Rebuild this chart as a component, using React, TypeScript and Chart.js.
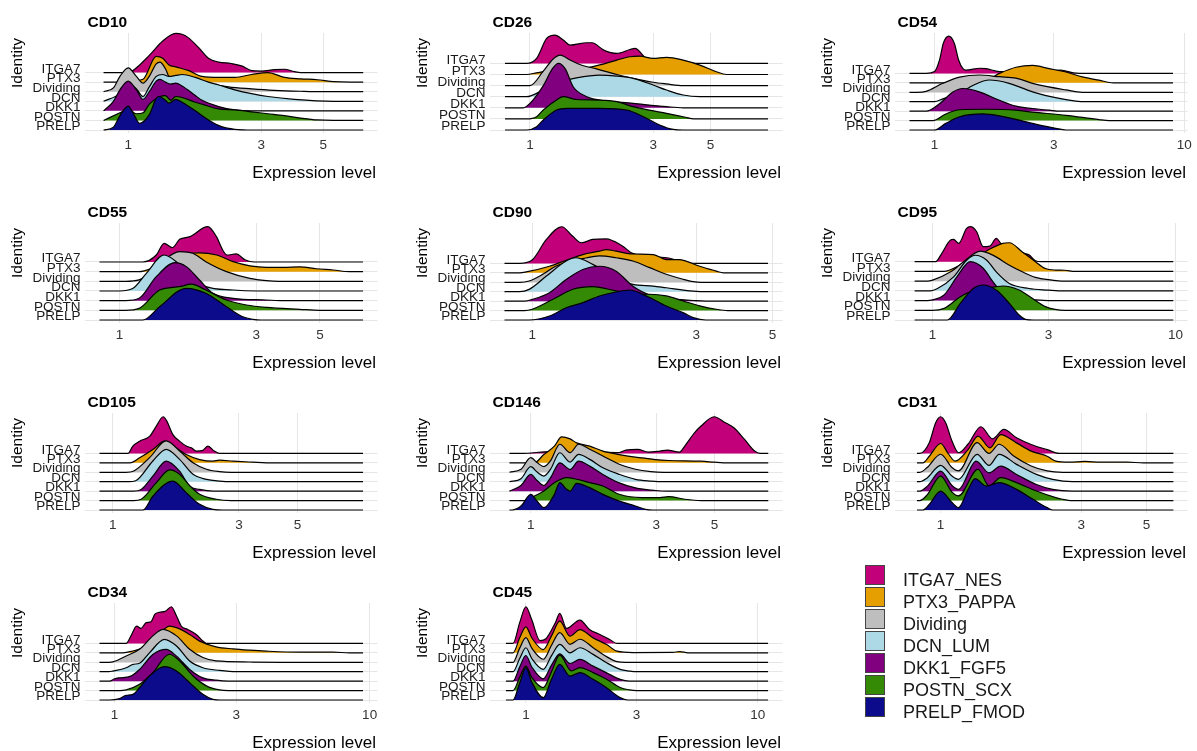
import React, { useEffect, useRef } from "react";
import { Chart, registerables } from "chart.js";

Chart.register(...registerables);

// ---------- categories ----------
const IDENTITIES = ["ITGA7", "PTX3", "Dividing", "DCN", "DKK1", "POSTN", "PRELP"];
const CLUSTERS = ["ITGA7_NES", "PTX3_PAPPA", "Dividing", "DCN_LUM", "DKK1_FGF5", "POSTN_SCX", "PRELP_FMOD"];
const COLORS = ["#C2007A", "#E69F00", "#BEBEBE", "#ADD8E6", "#800080", "#348A05", "#0B0B8B"];

const MARKERS = ["CD10", "CD26", "CD54", "CD55", "CD90", "CD95", "CD105", "CD146", "CD31", "CD34", "CD45"];
const X_TICKS = [[1, 3, 5], [1, 3, 5], [1, 3, 10], [1, 3, 5], [1, 3, 5], [1, 3, 10], [1, 3, 5], [1, 3, 5], [1, 3, 5], [1, 3, 10], [1, 3, 10]];
// range of expression covered by the density estimates
const X_LO = [0.816, 0.8, 0.794, 0.851, 0.831, 0.843, 0.89, 0.83, 0.831, 0.873, 0.82];
const X_HI = [6.96, 8.36, 9.02, 7.07, 4.85, 9.79, 8.84, 8.0, 6.17, 9.42, 11.09];

// ---------- densities: flat [x, height, x, height, ...], ridge order ITGA7 .. PRELP ----------
const CD10 = [
  [1.0, 0, 1.07, 0.5, 1.19, 1.8, 1.33, 3.3, 1.48, 4.1, 1.56, 4.0, 1.65, 3.6, 1.79, 2.6, 1.94, 1.5, 2.11, 1.1, 2.34, 0.95, 2.55, 0.7, 2.77, 0.2, 3.0, 0.15, 3.34, 0.3, 3.63, 0.35, 3.94, 0.1, 4.15, 0],
  [0.934, 0, 1.13, 0.3, 1.26, 2.7, 1.33, 2.5, 1.4, 1.8, 1.48, 1.6, 1.65, 1.2, 1.84, 0.6, 2.11, 0.5, 2.41, 0.5, 2.77, 0.8, 3.17, 1.0, 3.63, 0.5, 4.15, 0.35, 4.76, 0.25, 5.45, 0.05, 6.24, 0],
  [0.816, 0, 0.885, 0.4, 0.934, 1.6, 1.0, 2.5, 1.07, 1.6, 1.13, 0.9, 1.19, 1.6, 1.26, 2.9, 1.3, 3.1, 1.36, 2.4, 1.42, 1.3, 1.48, 1.6, 1.56, 1.7, 1.74, 1.3, 1.94, 0.9, 2.29, 0.5, 2.77, 0.3, 3.34, 0.15, 4.15, 0.05, 5.0, 0],
  [0.816, 0, 0.934, 0.8, 1.0, 1.8, 1.07, 1.3, 1.13, 0.5, 1.19, 1.5, 1.26, 2.6, 1.33, 2.8, 1.4, 2.6, 1.48, 2.7, 1.56, 2.8, 1.74, 2.5, 1.94, 2.0, 2.11, 1.7, 2.41, 1.2, 2.77, 0.8, 3.17, 0.5, 3.94, 0.2, 5.45, 0],
  [0.816, 0, 0.885, 1.0, 0.934, 2.2, 1.0, 3.1, 1.07, 2.2, 1.13, 1.2, 1.19, 2.0, 1.26, 3.1, 1.3, 3.3, 1.36, 3.0, 1.42, 2.8, 1.48, 2.9, 1.56, 2.6, 1.74, 1.6, 1.84, 1.1, 2.11, 0.45, 2.41, 0.1, 2.77, 0],
  [0.816, 0, 0.934, 0.8, 1.0, 1.2, 1.07, 0.7, 1.13, 0.8, 1.19, 1.7, 1.3, 2.5, 1.36, 2.6, 1.42, 2.1, 1.48, 2.5, 1.56, 2.4, 1.74, 1.9, 1.84, 1.7, 2.11, 1.2, 2.41, 1.1, 2.77, 0.9, 3.17, 0.7, 3.63, 0.5, 4.15, 0.25, 4.76, 0.05, 5.45, 0],
  [0.816, 0, 0.885, 0.3, 0.934, 1.5, 1.0, 2.5, 1.04, 1.8, 1.1, 0.7, 1.19, 1.6, 1.26, 3.3, 1.29, 3.5, 1.36, 3.1, 1.4, 2.8, 1.48, 3.2, 1.56, 2.9, 1.74, 2.0, 1.94, 1.05, 2.16, 0.35, 2.41, 0.07, 2.77, 0],
];
const CD26 = [
  [0.97, 0, 1.061, 0.45, 1.16, 2.25, 1.25, 2.55, 1.346, 2.1, 1.43, 1.65, 1.66, 1.86, 1.74, 1.86, 1.93, 1.2, 2.17, 0.9, 2.44, 1.25, 2.55, 1.35, 2.82, 0.45, 3.0, 0.3, 3.38, 0],
  [0.97, 0, 1.06, 0.15, 1.3, 0.5, 1.66, 0.6, 1.85, 0.85, 2.17, 1.3, 2.44, 1.6, 2.67, 1.65, 3.0, 1.45, 3.38, 1.55, 3.92, 1.3, 4.55, 0.85, 5.27, 0.25, 5.77, 0],
  [1.0, 0, 1.126, 1.3, 1.23, 2.4, 1.31, 2.75, 1.43, 2.3, 1.56, 1.9, 1.81, 1.5, 2.17, 1.0, 2.51, 0.65, 3.0, 0.3, 3.38, 0.15, 3.92, 0],
  [0.97, 0, 1.126, 0.6, 1.346, 1.4, 1.515, 1.7, 1.86, 1.95, 2.17, 1.86, 2.51, 1.65, 3.0, 1.05, 3.38, 0.6, 3.92, 0.15, 4.55, 0],
  [0.942, 0, 1.0, 0.4, 1.126, 2.0, 1.22, 3.5, 1.29, 4.0, 1.37, 3.5, 1.47, 1.9, 1.66, 1.0, 1.86, 0.7, 2.51, 0.4, 3.38, 0.1, 3.92, 0],
  [0.97, 0, 1.061, 0.2, 1.126, 0.8, 1.268, 1.7, 1.346, 2.0, 1.515, 1.75, 1.86, 1.7, 2.17, 1.55, 2.51, 1.1, 3.38, 0.5, 4.0, 0.15, 4.3, 0],
  [0.97, 0, 1.061, 0.3, 1.126, 0.9, 1.268, 1.8, 1.39, 1.95, 1.86, 1.95, 2.37, 1.8, 2.75, 1.2, 3.18, 0.45, 3.59, 0.05, 3.92, 0],
];
const CD54 = [
  [0.926, 0, 1.0, 0.2, 1.047, 1.4, 1.085, 3.2, 1.14, 3.95, 1.2, 3.2, 1.25, 1.4, 1.3, 0.5, 1.339, 0.35, 1.52, 0.55, 1.61, 0.5, 1.82, 0.2, 2.47, 0.2, 3.2, 0.35, 3.6, 0.05, 3.8, 0],
  [1.11, 0, 1.34, 0.3, 1.61, 0.3, 1.82, 1.0, 2.12, 1.65, 2.47, 1.85, 2.88, 1.5, 3.36, 1.15, 3.91, 0.63, 4.56, 0.28, 5.2, 0],
  [0.85, 0, 0.926, 0.1, 1.08, 0.95, 1.26, 1.6, 1.51, 1.83, 1.82, 1.65, 2.12, 1.5, 2.47, 0.95, 3.36, 0.25, 3.91, 0],
  [1.0, 0, 1.08, 0.3, 1.26, 0.9, 1.43, 1.75, 1.66, 2.3, 1.99, 1.95, 2.47, 1.05, 3.16, 0.35, 3.68, 0.07, 4.0, 0],
  [0.926, 0, 1.05, 0.8, 1.18, 2.0, 1.3, 2.4, 1.51, 2.05, 1.82, 1.15, 2.12, 0.53, 2.47, 0.28, 2.88, 0.1, 3.2, 0],
  [0.985, 0, 1.11, 0.7, 1.26, 1.15, 1.61, 1.2, 2.12, 1.1, 2.47, 0.9, 3.36, 0.56, 4.56, 0.1, 5.0, 0],
  [1.0, 0, 1.11, 0.7, 1.26, 1.4, 1.56, 1.7, 1.82, 1.5, 2.47, 0.7, 3.06, 0.18, 3.36, 0],
];
const CD55 = [
  [1.206, 0, 1.343, 0.72, 1.43, 1.93, 1.53, 1.5, 1.62, 2.34, 1.76, 2.62, 2.03, 3.65, 2.18, 2.6, 2.29, 1.24, 2.37, 0.72, 2.55, 0.83, 2.75, 0.2, 2.95, 0],
  [1.17, 0, 1.343, 0.5, 1.577, 1.2, 1.76, 1.9, 1.9, 1.95, 2.18, 1.72, 2.49, 1.03, 2.85, 0.6, 3.25, 0.45, 3.72, 0.45, 4.25, 0.5, 4.86, 0.3, 5.56, 0.17, 6.35, 0],
  [1.05, 0, 1.17, 0.15, 1.38, 1.86, 1.62, 3.07, 1.8, 2.9, 2.0, 2.03, 2.36, 1.0, 2.85, 0.3, 3.25, 0.07, 3.6, 0],
  [1.0, 0, 1.11, 0.25, 1.24, 1.83, 1.43, 3.72, 1.577, 3.03, 1.756, 1.48, 2.0, 0.45, 2.49, 0.1, 3.0, 0],
  [1.05, 0, 1.17, 0.24, 1.343, 2.48, 1.56, 3.93, 1.71, 3.52, 1.9, 2.14, 2.12, 0.76, 2.49, 0.24, 3.25, 0.07, 3.72, 0],
  [1.05, 0, 1.17, 0.2, 1.38, 2.1, 1.62, 2.45, 1.78, 2.7, 2.0, 2.1, 2.36, 1.07, 2.77, 0.55, 3.25, 0.3, 4.25, 0.1, 5.0, 0],
  [1.206, 0, 1.38, 1.38, 1.71, 3.28, 2.0, 2.76, 2.36, 1.38, 2.69, 0.34, 2.92, 0.07, 3.1, 0],
];
const CD90 = [
  [0.92, 0, 1.004, 0.42, 1.1, 2.54, 1.22, 3.89, 1.31, 2.9, 1.39, 2.19, 1.5, 2.54, 1.64, 2.6, 1.83, 1.84, 1.96, 1.06, 2.46, 0.6, 2.85, 0.07, 3.0, 0],
  [0.92, 0, 0.961, 0.1, 1.123, 0.7, 1.256, 1.34, 1.404, 1.94, 1.57, 2.3, 1.642, 2.47, 1.755, 2.3, 1.963, 2.0, 2.25, 1.94, 2.455, 1.41, 2.67, 1.41, 3.07, 0.7, 3.43, 0.18, 3.6, 0],
  [0.92, 0, 0.98, 0.14, 1.074, 0.85, 1.17, 1.7, 1.44, 2.6, 1.57, 2.8, 1.755, 2.6, 1.963, 2.26, 2.195, 1.55, 2.455, 0.85, 2.745, 0.32, 2.94, 0.07, 3.1, 0],
  [0.92, 0, 0.98, 0.25, 1.1, 1.66, 1.256, 3.25, 1.34, 3.6, 1.5, 2.9, 1.72, 1.66, 1.963, 0.78, 2.25, 0.6, 2.455, 0.42, 2.94, 0.07, 3.2, 0],
  [0.95, 0, 1.0, 0.18, 1.123, 0.9, 1.256, 2.3, 1.404, 3.36, 1.57, 3.7, 1.755, 3.18, 1.963, 1.59, 2.25, 0.53, 2.56, 0.25, 2.94, 0.07, 3.2, 0],
  [0.95, 0, 1.0, 0.14, 1.15, 1.2, 1.313, 2.26, 1.5, 2.54, 1.755, 2.08, 1.963, 1.73, 2.195, 1.73, 2.455, 1.55, 2.745, 1.02, 3.07, 0.5, 3.43, 0.14, 3.7, 0],
  [0.98, 0, 1.123, 0.42, 1.256, 1.3, 1.404, 1.84, 1.57, 2.54, 1.755, 2.97, 1.92, 3.18, 2.15, 2.54, 2.455, 1.48, 2.745, 0.78, 2.94, 0.25, 3.2, 0],
];
const CD95 = [
  [1.03, 0, 1.08, 0.68, 1.186, 2.23, 1.22, 2.3, 1.28, 1.88, 1.38, 3.42, 1.43, 3.6, 1.518, 3.08, 1.615, 1.54, 1.72, 1.6, 1.83, 2.4, 1.91, 1.88, 2.07, 1.5, 2.38, 0.86, 2.5, 0.68, 2.65, 0.1, 2.8, 0],
  [1.115, 0, 1.3, 0.65, 1.518, 1.5, 1.72, 2.3, 1.945, 2.88, 2.07, 2.95, 2.34, 2.0, 2.65, 1.0, 2.91, 0.3, 3.2, 0.14, 3.5, 0.12, 3.85, 0],
  [0.95, 0, 1.0, 0.1, 1.186, 0.96, 1.342, 1.99, 1.57, 3.08, 1.77, 2.67, 2.07, 1.64, 2.34, 0.96, 2.65, 0.38, 3.1, 0.1, 3.4, 0],
  [0.98, 0, 1.047, 0.24, 1.22, 1.44, 1.38, 3.15, 1.5, 3.66, 1.67, 3.15, 1.828, 1.95, 2.07, 0.75, 2.49, 0.24, 3.0, 0.07, 3.3, 0],
  [0.95, 0, 1.0, 0.07, 1.115, 0.58, 1.261, 2.47, 1.43, 4.0, 1.615, 3.32, 1.77, 1.95, 1.945, 0.75, 2.27, 0.24, 2.65, 0.07, 3.0, 0],
  [1.0, 0, 1.115, 0.2, 1.3, 1.4, 1.43, 1.9, 1.61, 2.2, 1.828, 2.43, 1.945, 2.5, 2.27, 2.09, 2.57, 1.23, 2.91, 0.38, 3.19, 0.1, 3.5, 0],
  [1.15, 0, 1.3, 1.71, 1.47, 3.25, 1.615, 3.6, 1.828, 3.08, 2.07, 1.71, 2.27, 0.51, 2.41, 0.07, 2.6, 0],
];
const CD105 = [
  [1.14, 0, 1.19, 0.78, 1.262, 1.3, 1.38, 1.84, 1.46, 2.9, 1.55, 3.89, 1.6, 3.43, 1.687, 2.0, 1.788, 1.3, 1.895, 0.78, 1.98, 0.6, 2.07, 0.25, 2.18, 0.3, 2.29, 0.78, 2.42, 0.25, 2.53, 0],
  [1.16, 0, 1.262, 0.53, 1.417, 1.41, 1.57, 2.3, 1.737, 1.59, 1.895, 0.88, 2.13, 0.35, 2.39, 0.18, 2.53, 0.28, 2.85, 0.18, 3.38, 0.07, 3.81, 0],
  [1.12, 0, 1.2, 0.14, 1.377, 1.55, 1.592, 3.32, 1.788, 2.26, 2.01, 1.02, 2.26, 0.32, 2.53, 0.07, 2.8, 0],
  [1.15, 0, 1.22, 0.1, 1.417, 2.2, 1.592, 3.43, 1.788, 2.37, 2.01, 0.78, 2.26, 0.25, 2.53, 0.07, 2.8, 0],
  [1.2, 0, 1.28, 0.18, 1.417, 1.59, 1.592, 3.18, 1.788, 2.12, 1.95, 0.53, 2.13, 0.18, 2.4, 0],
  [1.2, 0, 1.28, 0.14, 1.46, 1.9, 1.64, 3.25, 1.788, 2.8, 1.95, 1.6, 2.13, 0.67, 2.46, 0.14, 2.8, 0],
  [1.3, 0, 1.417, 1.48, 1.687, 3.07, 1.895, 1.84, 2.13, 0.6, 2.39, 0.07, 2.6, 0],
];
const CD146 = [
  [0.918, 0, 1.2, 0.2, 1.65, 0.2, 2.17, 0.1, 2.3, 0.35, 2.55, 0.42, 2.8, 0.14, 3.1, 0.25, 3.3, 0.35, 3.68, 0.14, 3.85, 0.78, 4.2, 2.2, 4.44, 2.9, 4.98, 3.89, 5.5, 3.25, 5.92, 2.72, 6.5, 1.48, 7.1, 0.25, 7.45, 0],
  [1.03, 0, 1.122, 0.88, 1.23, 1.77, 1.31, 2.76, 1.411, 2.54, 1.494, 2.12, 1.676, 1.77, 1.88, 1.24, 2.17, 0.88, 2.5, 0.6, 2.65, 0.53, 2.97, 0.35, 3.34, 0.25, 4.44, 0.18, 4.98, 0.07, 5.4, 0],
  [0.83, 0, 0.918, 0.32, 1.0, 1.55, 1.06, 1.0, 1.122, 0.6, 1.188, 1.2, 1.29, 2.97, 1.411, 2.08, 1.52, 2.97, 1.676, 2.44, 1.88, 1.73, 2.17, 0.85, 2.5, 0.32, 2.86, 0.07, 3.2, 0],
  [0.83, 0, 0.918, 0.32, 1.0, 1.59, 1.06, 1.0, 1.122, 0.6, 1.188, 1.3, 1.29, 3.07, 1.411, 2.08, 1.52, 2.9, 1.676, 2.37, 1.88, 1.48, 2.17, 0.78, 2.5, 0.25, 2.86, 0.07, 3.2, 0],
  [0.83, 0, 0.918, 0.6, 1.0, 1.77, 1.06, 1.1, 1.122, 0.6, 1.188, 1.4, 1.29, 3.0, 1.411, 2.3, 1.52, 3.18, 1.676, 2.65, 1.88, 1.77, 2.17, 0.88, 2.5, 0.35, 2.97, 0.07, 3.3, 0],
  [0.95, 0, 1.0, 0.3, 1.122, 1.02, 1.23, 1.9, 1.37, 2.44, 1.494, 2.26, 1.676, 1.9, 1.88, 1.55, 2.17, 0.67, 2.65, 0.32, 3.1, 0.32, 3.34, 0.42, 3.85, 0.14, 4.44, 0],
  [0.85, 0, 0.918, 0.42, 1.0, 1.66, 1.06, 0.9, 1.122, 0.25, 1.23, 1.66, 1.29, 2.9, 1.37, 2.19, 1.411, 2.0, 1.494, 2.83, 1.676, 2.37, 1.88, 1.66, 2.17, 0.95, 2.5, 0.42, 2.73, 0.07, 2.9, 0],
];
const CD31 = [
  [0.85, 0, 0.915, 1.13, 0.962, 3.25, 1.0, 3.89, 1.04, 3.25, 1.093, 1.31, 1.15, 0.07, 1.24, 1.0, 1.37, 2.83, 1.5, 1.55, 1.64, 2.54, 1.81, 1.66, 2.03, 0.95, 2.3, 0.4, 2.53, 0],
  [0.87, 0, 0.915, 0.7, 1.0, 2.05, 1.06, 1.0, 1.12, 0.18, 1.24, 1.41, 1.34, 2.83, 1.47, 1.59, 1.6, 3.0, 1.81, 2.12, 2.03, 1.24, 2.3, 0.7, 2.46, 0.18, 2.73, 0.07, 3.09, 0.15, 3.5, 0.07, 4.3, 0.07, 4.88, 0],
  [0.85, 0, 0.9, 0.5, 1.0, 1.91, 1.093, 0.5, 1.15, 0.14, 1.33, 3.14, 1.46, 2.0, 1.58, 2.97, 1.77, 1.73, 2.03, 0.67, 2.3, 0.14, 2.6, 0],
  [0.85, 0, 0.9, 0.4, 1.0, 1.73, 1.093, 0.6, 1.15, 0.25, 1.33, 2.9, 1.46, 1.73, 1.58, 2.9, 1.81, 1.84, 2.115, 0.78, 2.4, 0.25, 2.8, 0],
  [0.85, 0, 0.9, 0.5, 1.0, 2.12, 1.093, 0.6, 1.15, 0.18, 1.32, 3.18, 1.46, 1.94, 1.6, 2.65, 1.81, 1.77, 2.115, 0.7, 2.4, 0.18, 2.8, 0],
  [0.85, 0, 0.9, 0.6, 1.0, 2.6, 1.093, 0.9, 1.15, 0.5, 1.34, 3.32, 1.46, 1.55, 1.6, 2.44, 1.81, 1.9, 2.115, 1.02, 2.46, 0.32, 2.59, 0.14, 2.8, 0],
  [0.87, 0, 0.915, 0.6, 1.0, 2.0, 1.093, 0.8, 1.15, 0.25, 1.24, 2.19, 1.31, 3.32, 1.43, 2.54, 1.58, 2.9, 1.81, 2.19, 2.06, 1.13, 2.3, 0.25, 2.4, 0],
];
const CD34 = [
  [1.11, 0, 1.16, 0.8, 1.22, 1.84, 1.27, 1.6, 1.33, 2.2, 1.39, 2.3, 1.44, 3.1, 1.5, 3.3, 1.58, 3.4, 1.67, 3.89, 1.75, 2.9, 1.83, 1.8, 1.93, 1.5, 2.09, 0.95, 2.22, 0.25, 2.29, 0],
  [1.08, 0, 1.18, 0.2, 1.29, 0.53, 1.46, 1.59, 1.64, 2.83, 1.8, 2.54, 1.97, 1.94, 2.155, 1.24, 2.5, 0.64, 2.91, 0.42, 3.39, 0.28, 3.93, 0.18, 5.32, 0.07, 7.19, 0.07, 8.35, 0],
  [0.95, 0, 0.985, 0.04, 1.111, 0.67, 1.253, 1.38, 1.413, 2.8, 1.55, 3.5, 1.75, 2.8, 1.97, 1.38, 2.22, 0.5, 2.5, 0.14, 3.39, 0.03, 4.5, 0],
  [0.95, 0, 0.985, 0.07, 1.111, 0.42, 1.18, 0.78, 1.253, 0.9, 1.37, 2.0, 1.57, 3.43, 1.75, 2.72, 1.97, 1.13, 2.22, 0.42, 2.58, 0.14, 3.0, 0],
  [0.956, 0, 1.0, 0.25, 1.046, 0.35, 1.15, 0.5, 1.253, 1.24, 1.413, 2.83, 1.594, 3.36, 1.75, 2.65, 1.97, 1.24, 2.22, 0.35, 2.5, 0.1, 2.8, 0],
  [1.05, 0, 1.111, 0.07, 1.253, 0.67, 1.413, 1.9, 1.64, 3.85, 1.8, 3.14, 2.03, 1.55, 2.29, 0.5, 2.58, 0.07, 2.8, 0],
  [0.956, 0, 1.046, 0.14, 1.111, 0.5, 1.18, 0.6, 1.253, 1.3, 1.37, 2.54, 1.57, 3.53, 1.75, 3.07, 1.97, 1.84, 2.22, 0.6, 2.43, 0.07, 2.6, 0],
];
const CD45 = [
  [0.88, 0, 0.94, 2.2, 1.0, 3.89, 1.06, 2.5, 1.15, 0.3, 1.22, 0.5, 1.34, 2.2, 1.4, 3.18, 1.497, 1.6, 1.71, 2.47, 1.88, 1.48, 2.085, 0.95, 2.3, 0.42, 2.47, 0],
  [0.88, 0, 0.94, 1.6, 1.0, 2.76, 1.06, 1.6, 1.188, 0.35, 1.29, 1.8, 1.4, 3.36, 1.55, 1.77, 1.71, 2.47, 1.95, 1.59, 2.23, 0.88, 2.47, 0.18, 2.9, 0.03, 4.3, 0.04, 4.61, 0.14, 5.0, 0],
  [0.88, 0, 0.94, 1.5, 1.0, 2.61, 1.06, 1.5, 1.188, 0.32, 1.29, 1.8, 1.4, 3.14, 1.55, 1.9, 1.71, 2.44, 1.95, 1.55, 2.23, 0.6, 2.47, 0.07, 2.7, 0],
  [0.88, 0, 0.94, 1.4, 1.0, 2.54, 1.06, 1.4, 1.188, 0.25, 1.29, 1.7, 1.4, 2.9, 1.55, 2.0, 1.71, 2.54, 1.95, 1.84, 2.23, 0.95, 2.55, 0.25, 2.8, 0.07, 3.0, 0],
  [0.88, 0, 0.94, 1.5, 1.0, 2.72, 1.06, 1.5, 1.188, 0.25, 1.29, 1.7, 1.4, 2.9, 1.55, 1.87, 1.71, 2.3, 1.95, 1.59, 2.23, 0.88, 2.55, 0.18, 2.8, 0],
  [0.88, 0, 0.94, 1.4, 1.0, 2.6, 1.06, 1.4, 1.188, 0.32, 1.29, 2.0, 1.4, 3.75, 1.57, 2.08, 1.71, 2.44, 1.95, 1.9, 2.23, 1.2, 2.55, 0.32, 2.8, 0.07, 3.0, 0],
  [0.88, 0, 0.94, 1.8, 1.0, 3.43, 1.06, 1.9, 1.188, 0.25, 1.29, 2.2, 1.4, 3.78, 1.55, 2.54, 1.71, 2.9, 1.95, 2.19, 2.23, 1.3, 2.55, 0.25, 2.75, 0],
];
const DENSITIES = [CD10, CD26, CD54, CD55, CD90, CD95, CD105, CD146, CD31, CD34, CD45];

// ---------- layout (pixels) ----------
const RIDGE_SPACING = [9.57, 11.1, 9.43, 9.67, 9.43, 9.72, 9.43, 9.43, 9.43, 9.43, 9.43];
const FONT = '"Liberation Sans", Arial, Helvetica, sans-serif';
const PANEL_W = 387;
const PANEL_H = 190;
const COL_STEP = 405;
const ROW_STEP = 190;
const PLOT_LEFT = 85;
const PLOT_RIGHT = 377.5;
const PLOT_TOP = 33;
const PLOT_BOTTOM = 133;
const BASE_PX = 130;
const EXPAND = 0.055;

const panelText = {
  id: "panelText",
  afterDraw(chart: any, _args: any, opts: any) {
    const ctx = chart.ctx;
    ctx.save();
    ctx.fillStyle = "#000";
    ctx.textBaseline = "middle";
    ctx.textAlign = "left";
    ctx.font = `bold 15.5px ${FONT}`;
    ctx.fillText(opts.title, 87.5, 22.5);
    ctx.textAlign = "right";
    ctx.font = `17px ${FONT}`;
    ctx.fillText("Expression level", 376, 173);
    ctx.translate(18, 63);
    ctx.rotate(-Math.PI / 2);
    ctx.textAlign = "center";
    ctx.font = `15.5px ${FONT}`;
    ctx.fillText("Identity", 0, 0);
    ctx.restore();
  },
};

function RidgePanel({ index }: { index: number }) {
  const ref = useRef<HTMLCanvasElement>(null);
  useEffect(() => {
    if (!ref.current) return;
    const lo = X_LO[index];
    const hi = X_HI[index];
    const l0 = Math.log(lo);
    const l1 = Math.log(hi);
    const span = l1 - l0;
    const xMin = Math.exp(l0 - EXPAND * span);
    const xMax = Math.exp(l1 + EXPAND * span);
    const s = RIDGE_SPACING[index];
    const yMin = 1 - (PLOT_BOTTOM - BASE_PX) / s;
    const yMax = 1 + (BASE_PX - PLOT_TOP) / s;
    const n = IDENTITIES.length;

    const datasets = DENSITIES[index].map((flat, i) => {
      const base = n - i;
      const pts: { x: number; y: number }[] = [];
      if (flat[0] > lo) pts.push({ x: lo, y: base });
      for (let k = 0; k < flat.length; k += 2) pts.push({ x: flat[k], y: base + flat[k + 1] });
      if (flat[flat.length - 2] < hi) pts.push({ x: hi, y: base });
      return {
        label: CLUSTERS[i],
        data: pts,
        borderColor: "#000",
        borderWidth: 1.2,
        backgroundColor: COLORS[i],
        fill: { value: base },
        pointRadius: 0,
        pointHoverRadius: 0,
        cubicInterpolationMode: "monotone",
        borderJoinStyle: "round",
        clip: false,
        order: n - 1 - i,
      };
    });

    const chart = new Chart(ref.current, {
      type: "line",
      data: { datasets } as any,
      plugins: [panelText as any],
      options: {
        responsive: false,
        maintainAspectRatio: false,
        animation: false,
        events: [],
        layout: { padding: { left: 0, right: PANEL_W - PLOT_RIGHT, top: PLOT_TOP, bottom: 0 } },
        plugins: {
          legend: { display: false },
          tooltip: { enabled: false },
          panelText: { title: MARKERS[index] },
        } as any,
        scales: {
          x: {
            type: "logarithmic",
            min: xMin,
            max: xMax,
            afterBuildTicks: (scale: any) => {
              scale.ticks = X_TICKS[index].map((v) => ({ value: v }));
            },
            afterFit: (scale: any) => {
              scale.height = PANEL_H - PLOT_BOTTOM;
            },
            grid: { color: "#E6E6E6", lineWidth: 1, drawTicks: false },
            border: { display: false },
            ticks: {
              autoSkip: false,
              maxRotation: 0,
              padding: 4,
              color: "#333",
              font: { family: FONT, size: 13.5 },
              callback: (v: any) => String(v),
            },
          },
          y: {
            type: "linear",
            min: yMin,
            max: yMax,
            afterBuildTicks: (scale: any) => {
              scale.ticks = IDENTITIES.map((_, k) => ({ value: k + 1 }));
            },
            afterFit: (scale: any) => {
              scale.width = PLOT_LEFT;
            },
            grid: { color: "#E6E6E6", lineWidth: 1, drawTicks: false },
            border: { display: false },
            ticks: {
              autoSkip: false,
              padding: 4.5,
              labelOffset: -3.5,
              color: "#1a1a1a",
              font: { family: FONT, size: 13.5 },
              callback: (v: any) => IDENTITIES[n - Math.round(v)] ?? "",
            },
          },
        },
      } as any,
    });
    return () => chart.destroy();
  }, [index]);

  return <canvas ref={ref} width={PANEL_W} height={PANEL_H} style={{ display: "block", width: PANEL_W, height: PANEL_H }} />;
}

function Legend() {
  return (
    <div style={{ position: "absolute", left: 865, top: 565 }}>
      {CLUSTERS.map((c, i) => (
        <div key={c} style={{ position: "absolute", left: 0, top: i * 22, width: 220, height: 20 }}>
          <div
            style={{
              position: "absolute",
              left: 0,
              top: 0,
              width: 18,
              height: 18,
              background: COLORS[i],
              border: "1px solid #444",
            }}
          />
          <span
            style={{
              position: "absolute",
              left: 38,
              top: 4.5,
              font: `18px ${FONT}`,
              lineHeight: "20px",
              whiteSpace: "nowrap",
              color: "#1a1a1a",
            }}
          >
            {c}
          </span>
        </div>
      ))}
    </div>
  );
}

export default function App() {
  return (
    <div
      style={{
        position: "fixed",
        left: 0,
        top: 0,
        width: 1197,
        height: 751,
        background: "#fff",
        overflow: "hidden",
      }}
    >
      {MARKERS.map((m, i) => (
        <div
          key={m}
          style={{ position: "absolute", left: (i % 3) * COL_STEP, top: Math.floor(i / 3) * ROW_STEP }}
        >
          <RidgePanel index={i} />
        </div>
      ))}
      <Legend />
    </div>
  );
}
